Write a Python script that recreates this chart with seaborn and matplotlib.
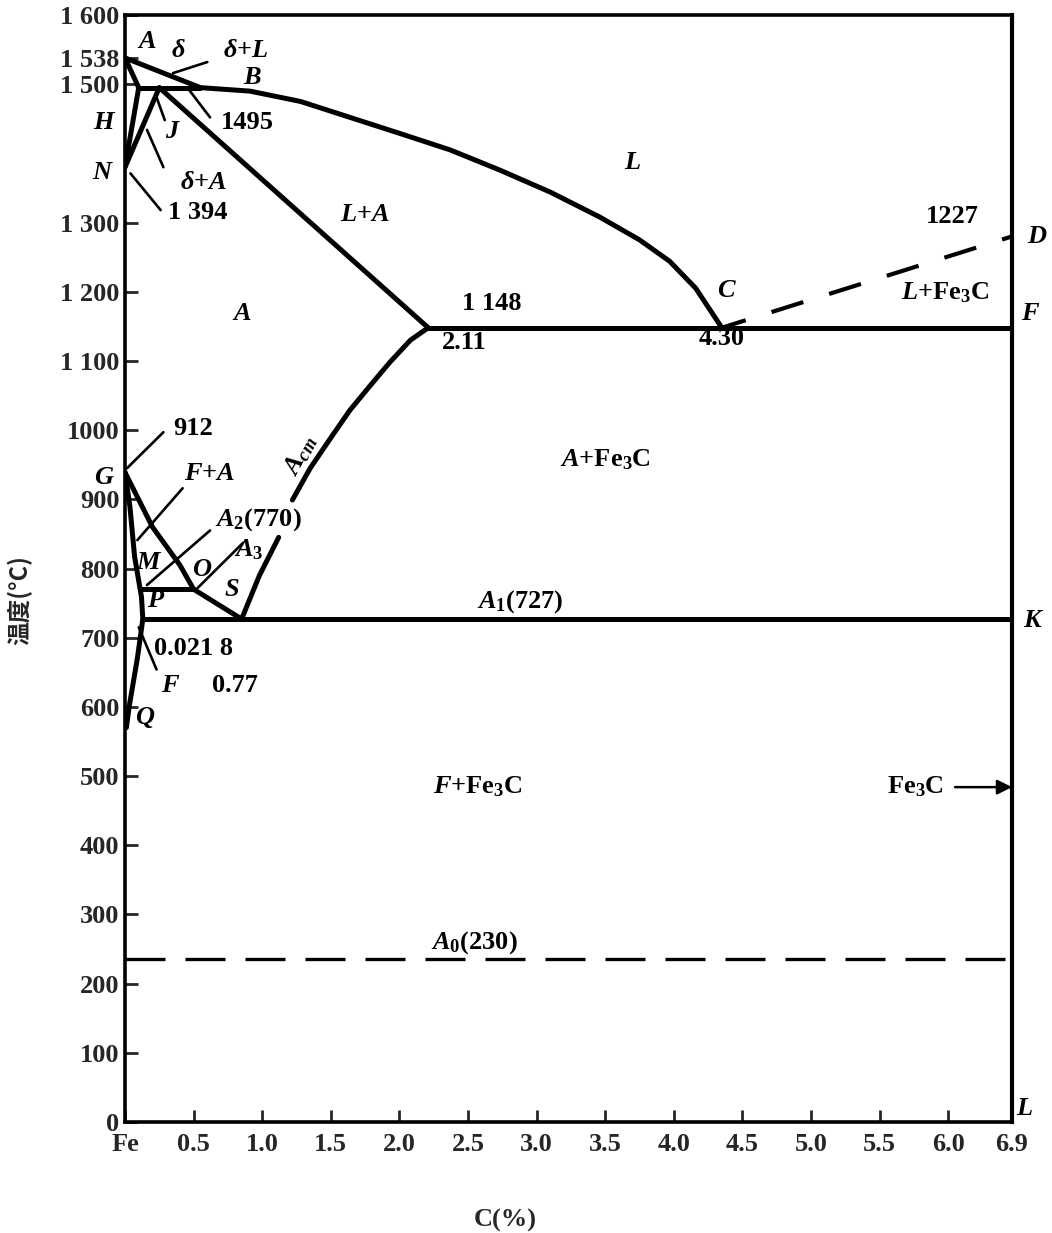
import matplotlib
matplotlib.use("Agg")
import matplotlib.pyplot as plt
import seaborn as sns

# ---------------- data (x on the chart's C(%) scale, T in °C) ----------------
liquidus_x = [0.0, 0.55, 0.91, 1.28, 1.64, 2.00, 2.37, 2.73, 3.10, 3.46, 3.75, 3.97, 4.16, 4.35]
liquidus_T = [1538, 1495, 1490, 1475, 1452, 1429, 1405, 1376, 1344, 1308, 1275, 1244, 1205, 1148]
AH_x = [0.0, 0.10]
AH_T = [1538, 1495]
HJB_x = [0.10, 0.25, 0.55]
HJB_T = [1495, 1495, 1495]
NH_x = [0.0, 0.10]
NH_T = [1380, 1495]
NJ_x = [0.0, 0.25]
NJ_T = [1380, 1495]
JE_x = [0.25, 2.21]
JE_T = [1495, 1148]
ECF_x = [2.21, 4.35, 6.465]
ECF_T = [1148, 1148, 1148]
CD_x = [4.35, 6.465]
CD_T = [1148, 1280]
GOS_x = [0.0, 0.2, 0.4, 0.5, 0.85]
GOS_T = [939, 860, 805, 770, 727]
GP_x = [0.0, 0.036, 0.07, 0.12, 0.13]
GP_T = [939, 889, 817, 759, 727]
PQ_x = [0.13, 0.09, 0.03, 0.01]
PQ_T = [727, 670, 600, 570]
MO_x = [0.11, 0.5]
MO_T = [770, 770]
PSK_x = [0.13, 0.85, 6.465]
PSK_T = [727, 727, 727]
ES_upper_x = [2.21, 2.08, 1.93, 1.79, 1.64, 1.49, 1.35, 1.22]
ES_upper_T = [1148, 1130, 1098, 1065, 1029, 986, 945, 899]
ES_lower_x = [1.12, 0.98, 0.85]
ES_lower_T = [845, 790, 727]
A0_x = [0.0, 6.465]
A0_T = [235, 235]

yticks = [0, 100, 200, 300, 400, 500, 600, 700, 800, 900, 1000, 1100, 1200, 1300, 1500, 1538, 1600]
ylabels = ["0", "100", "200", "300", "400", "500", "600", "700", "800", "900", "1000",
           "1 100", "1 200", "1 300", "1 500", "1 538", "1 600"]
xticks = [0, 0.5, 1.0, 1.5, 2.0, 2.5, 3.0, 3.5, 4.0, 4.5, 5.0, 5.5, 6.0, 6.465]
xlabels = ["Fe", "0.5", "1.0", "1.5", "2.0", "2.5", "3.0", "3.5", "4.0", "4.5", "5.0", "5.5", "6.0", "6.9"]

# ---------------- style ----------------
sns.set_theme(style="white")
plt.rcParams['font.family'] = ['Liberation Serif', 'Noto Sans CJK SC', 'DejaVu Sans']
plt.rcParams['font.weight'] = 'bold'
plt.rcParams['mathtext.fontset'] = 'custom'
plt.rcParams['mathtext.rm'] = 'Liberation Serif:bold'
plt.rcParams['mathtext.it'] = 'Liberation Serif:bold:italic'
plt.rcParams['mathtext.bf'] = 'Liberation Serif:bold'

fig = plt.figure(figsize=(10.52, 12.33), dpi=100)
ax = fig.add_axes([125 / 1052, 1 - 1122 / 1233, 887 / 1052, 1107 / 1233])
ax.set_facecolor("white")

K = "black"
LW = 3.6


def draw(xs, ts, lw=LW, ls="-"):
    sns.lineplot(x=xs, y=ts, ax=ax, color=K, lw=lw, sort=False, estimator=None,
                 linestyle=ls, solid_capstyle="round", solid_joinstyle="round")


for xs, ts in [(liquidus_x, liquidus_T), (AH_x, AH_T), (HJB_x, HJB_T), (NH_x, NH_T),
               (NJ_x, NJ_T), (JE_x, JE_T), (ECF_x, ECF_T), (GOS_x, GOS_T), (GP_x, GP_T),
               (PQ_x, PQ_T), (MO_x, MO_T), (PSK_x, PSK_T), (ES_upper_x, ES_upper_T),
               (ES_lower_x, ES_lower_T)]:
    draw(xs, ts)
draw(CD_x, CD_T, lw=3.0, ls=(2, (8, 6.5)))
draw(A0_x, A0_T, lw=2.4, ls=(0, (12, 6)))

# leader lines
for (x0, t0, x1, t1) in [(0.35, 1516, 0.60, 1532), (0.47, 1491, 0.62, 1452),
                         (0.23, 1481, 0.29, 1448), (0.16, 1434, 0.28, 1380),
                         (0.04, 1371, 0.26, 1318), (0.015, 945, 0.28, 997),
                         (0.09, 841, 0.42, 916), (0.16, 776, 0.62, 855),
                         (0.53, 772, 0.86, 837), (0.10, 715, 0.23, 654)]:
    ax.plot([x0, x1], [t0, t1], color=K, lw=1.9, solid_capstyle="round")

ax.annotate("", xy=(6.465, 484), xytext=(6.05, 484),
            arrowprops=dict(arrowstyle="-|>", lw=1.8, color=K, mutation_scale=22,
                            shrinkA=0, shrinkB=0))

# ---------------- labels ----------------
FS = 19
labels = [
    ("$A$", 0.16, 1561), ("$\\delta$", 0.39, 1548), ("$\\delta$+$L$", 0.88, 1549),
    ("$B$", 0.93, 1509), ("1495", 0.89, 1444), ("$H$", -0.15, 1445), ("$J$", 0.35, 1432),
    ("$N$", -0.16, 1373), ("$\\delta$+$A$", 0.57, 1358), ("1 394", 0.53, 1315),
    ("$L$", 3.70, 1387), ("$L$+$A$", 1.75, 1311), ("1227", 6.03, 1309), ("$D$", 6.65, 1280),
    ("$C$", 4.39, 1202), ("$L$+Fe$_3$C", 5.98, 1198), ("$F$", 6.6, 1168),
    ("$A$", 0.85, 1168), ("1 148", 2.67, 1183), ("2.11", 2.47, 1127), ("4.30", 4.35, 1133),
    ("912", 0.50, 1003), ("$A$+Fe$_3$C", 3.5, 957), ("$G$", -0.15, 931),
    ("$F$+$A$", 0.62, 938), ("$A_2$(770)", 0.97, 870), ("$A_3$", 0.9, 827),
    ("$M$", 0.18, 809), ("$O$", 0.56, 798), ("$P$", 0.23, 754), ("$S$", 0.78, 769),
    ("$A_1$(727)", 2.88, 752), ("$K$", 6.62, 725), ("0.021 8", 0.50, 685),
    ("$F$", 0.33, 631), ("0.77", 0.80, 631), ("$Q$", 0.15, 584),
    ("$F$+Fe$_3$C", 2.57, 484), ("Fe$_3$C", 5.76, 484), ("$A_0$(230)", 2.55, 259),
    ("$L$", 6.56, 20),
]
for txt, x, t in labels:
    ax.text(x, t, txt, fontsize=FS, ha="center", va="center", color=K, clip_on=False)

ax.text(1.28, 964, "$A_{cm}$", fontsize=FS, rotation=62, ha="center", va="center", color=K)

# ---------------- axes ----------------
ax.set_xlim(0, 6.465)
ax.set_ylim(0, 1600)
ax.set_yticks(yticks)
ax.set_yticklabels(ylabels, fontsize=FS, fontweight="bold")
ax.set_xticks(xticks)
ax.set_xticklabels(xlabels, fontsize=FS, fontweight="bold")
ax.tick_params(axis="y", direction="in", length=9, width=2, pad=4, left=True)
ax.tick_params(axis="x", direction="in", length=9, width=2, pad=8, bottom=True)
for s in ax.spines.values():
    s.set_visible(True)
    s.set_color(K)
    s.set_linewidth(2.6)
ax.spines["right"].set_linewidth(3.0)
ax.grid(False)
ax.set_xlabel("")
ax.set_ylabel("")

fig.text(505 / 1052, 1 - 1220 / 1233, "C(%)", fontsize=FS, fontweight="bold",
         ha="center", va="center")
fig.text(20 / 1052, 1 - 600 / 1233, "温度(°C)", fontsize=17, fontweight="bold",
         rotation=90, ha="center", va="center", family=["Noto Sans CJK SC", "DejaVu Sans"])

fig.savefig("out.png", dpi=100, facecolor="white")
